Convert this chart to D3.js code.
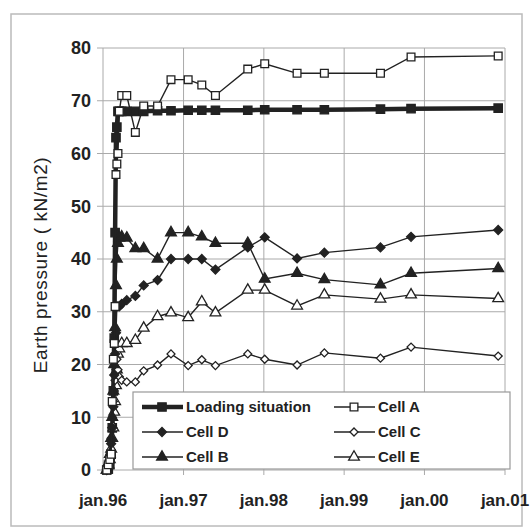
<!DOCTYPE html>
<html lang="en">
<head>
  <meta charset="UTF-8">
  <title>Earth pressure</title>
  <script src="https://d3js.org/d3.v7.min.js"></script>
  <style>
    body { margin: 0; background: #fff; font-family: "Liberation Sans", Arial, sans-serif; }
  </style>
</head>
<body>
  <svg id="chart" width="531" height="528"></svg>
  <script>
const dates = [
  "1996-01-18", "1996-01-25", "1996-02-01", "1996-02-07", "1996-02-12", "1996-02-17",
  "1996-02-21", "1996-02-25", "1996-02-29", "1996-03-04", "1996-03-09", "1996-03-15",
  "1996-03-26", "1996-04-18", "1996-05-27", "1996-07-04", "1996-09-05", "1996-11-05",
  "1997-01-22", "1997-03-25", "1997-05-26", "1997-10-20", "1998-01-05", "1998-06-01",
  "1998-10-03", "1999-06-15", "1999-11-01", "2000-12-01"
];

const loading = [0, 0.3, 1, 3, 8, 15, 25, 45, 63, 65, 68, 68, 68, 68, 68, 68, 68.1, 68.1,
  68.2, 68.2, 68.2, 68.2, 68.3, 68.3, 68.3, 68.4, 68.5, 68.6];
const cellA = [0, 1, 2, 3, 13, 21, 24, 31, 56, 58, 60, 68, 71, 71, 64, 69, 69, 74,
  74, 73, 71, 76, 77, 75.2, 75.2, 75.2, 78.3, 78.5];
const cellD = [0, 1, 2, 5, 8, 12, 18, 22, 26, 31, 31, 31, 31.5, 32.2, 33, 35, 36, 40,
  40, 40, 38, 42.2, 44.1, 40.1, 41.2, 42.2, 44.2, 45.5];
const cellC = [0, 1, 3, 6, 10, 13, 15, 17, 19, 21, 19, 17.7, 17, 16.7, 16.7, 18.8, 19.9, 22,
  19.8, 20.9, 19.8, 22, 21, 19.9, 22.2, 21.2, 23.3, 21.6];
const cellB = [0, 1, 3, 6, 10, 15, 20, 27, 35, 40, 43, 44, 44.2, 44, 42, 42, 40, 45,
  45, 44.2, 43, 43, 36.2, 37.3, 36.1, 35.1, 37.3, 38.2];
const cellE = [0, 1, 2, 4, 6, 8, 11, 13, 16, 19, 22, 23, 24, 24, 24.6, 26.9, 29.1, 29.8,
  28.9, 31.9, 29.8, 34.1, 34.1, 31.1, 33.2, 32.4, 33.2, 32.5];

const yTicks = [0, 10, 20, 30, 40, 50, 60, 70, 80];
const xTicks = ["1996-01-01", "1997-01-01", "1998-01-01", "1999-01-01", "2000-01-01", "2001-01-01"];

const parse = d3.timeParse("%Y-%m-%d");
const svg = d3.select("#chart");

// outer frame
svg.append("rect")
  .attr("x", 11).attr("y", 14)
  .attr("width", 511).attr("height", 512)
  .attr("fill", "none")
  .attr("stroke", "#bbb")
  .attr("stroke-width", 1.5);

const x = d3.scaleTime()
  .domain([parse(xTicks[0]), parse(xTicks[xTicks.length - 1])])
  .range([103, 505]);
const y = d3.scaleLinear().domain([0, 80]).range([470, 48]);

// grid
const grid = svg.append("g").attr("stroke", "#aaa").attr("stroke-width", 1);
grid.selectAll(".hg").data(yTicks).enter().append("line")
  .attr("x1", 97).attr("x2", x.range()[1])
  .attr("y1", d => y(d)).attr("y2", d => y(d));
grid.selectAll(".vg").data(xTicks).enter().append("line")
  .attr("x1", d => x(parse(d))).attr("x2", d => x(parse(d)))
  .attr("y1", y(80)).attr("y2", y(0) + 5);

// tick labels
svg.append("g").selectAll("text").data(yTicks).enter().append("text")
  .attr("x", 91).attr("y", d => y(d))
  .attr("dy", "0.36em")
  .attr("text-anchor", "end")
  .attr("font-size", "18px")
  .attr("font-weight", "bold")
  .attr("fill", "#222")
  .text(d => d);

const fmt = d3.timeFormat("%y");
svg.append("g").selectAll("text").data(xTicks).enter().append("text")
  .attr("x", d => x(parse(d))).attr("y", 506)
  .attr("text-anchor", "middle")
  .attr("font-size", "17px")
  .attr("font-weight", "bold")
  .attr("fill", "#222")
  .text(d => "jan." + fmt(parse(d)));

svg.append("text")
  .attr("transform", "translate(47,265) rotate(-90)")
  .attr("text-anchor", "middle")
  .attr("font-size", "19px")
  .attr("letter-spacing", "0.6px")
  .attr("fill", "#222")
  .text("Earth pressure ( kN/m2)");

// series
const series = [
  { name: "Loading situation", values: loading, shape: d3.symbolSquare, size: 70, rot: 0, fill: "#222", width: 4.5 },
  { name: "Cell E", values: cellE, shape: d3.symbolTriangle, size: 50, rot: 0, fill: "#fff", width: 1.4 },
  { name: "Cell C", values: cellC, shape: d3.symbolSquare, size: 32, rot: 45, fill: "#fff", width: 1.4 },
  { name: "Cell B", values: cellB, shape: d3.symbolTriangle, size: 50, rot: 0, fill: "#222", width: 1.4 },
  { name: "Cell D", values: cellD, shape: d3.symbolSquare, size: 40, rot: 45, fill: "#222", width: 1.4 },
  { name: "Cell A", values: cellA, shape: d3.symbolSquare, size: 60, rot: 0, fill: "#fff", width: 1.4 }
];

const line = d3.line().x(d => x(d.date)).y(d => y(d.v));

series.forEach(s => {
  const pts = dates.map((d, i) => ({ date: parse(d), v: s.values[i] }));
  const g = svg.append("g");
  g.append("path")
    .datum(pts)
    .attr("d", line)
    .attr("fill", "none")
    .attr("stroke", "#222")
    .attr("stroke-width", s.width);
  g.selectAll("path.m").data(pts).enter().append("path")
    .attr("class", "m")
    .attr("d", d3.symbol().type(s.shape).size(s.size))
    .attr("transform", d => `translate(${x(d.date)},${y(d.v)}) rotate(${s.rot})`)
    .attr("fill", s.fill)
    .attr("stroke", "#222")
    .attr("stroke-width", 1.3);
});

// legend
const legend = svg.append("g");
legend.append("rect")
  .attr("x", 133).attr("y", 392)
  .attr("width", 377).attr("height", 77)
  .attr("fill", "#fff")
  .attr("stroke", "#999")
  .attr("stroke-width", 1.2);

const legendItems = [
  { s: series[0], col: 0, row: 0 },
  { s: series[5], col: 1, row: 0 },
  { s: series[4], col: 0, row: 1 },
  { s: series[2], col: 1, row: 1 },
  { s: series[3], col: 0, row: 2 },
  { s: series[1], col: 1, row: 2 }
];

legendItems.forEach(it => {
  const lx = it.col === 0 ? 142 : 334;
  const ly = 407 + it.row * 25;
  const g = legend.append("g");
  g.append("line")
    .attr("x1", lx).attr("x2", lx + 41)
    .attr("y1", ly).attr("y2", ly)
    .attr("stroke", "#222")
    .attr("stroke-width", it.s.width);
  g.append("path")
    .attr("d", d3.symbol().type(it.s.shape).size(it.s.size)())
    .attr("transform", `translate(${lx + 20},${ly}) rotate(${it.s.rot})`)
    .attr("fill", it.s.fill)
    .attr("stroke", "#222")
    .attr("stroke-width", 1.3);
  g.append("text")
    .attr("x", lx + 44).attr("y", ly)
    .attr("dy", "0.36em")
    .attr("font-size", "15px")
    .attr("font-weight", "bold")
    .attr("fill", "#222")
    .text(it.s.name);
});
  </script>
</body>
</html>
